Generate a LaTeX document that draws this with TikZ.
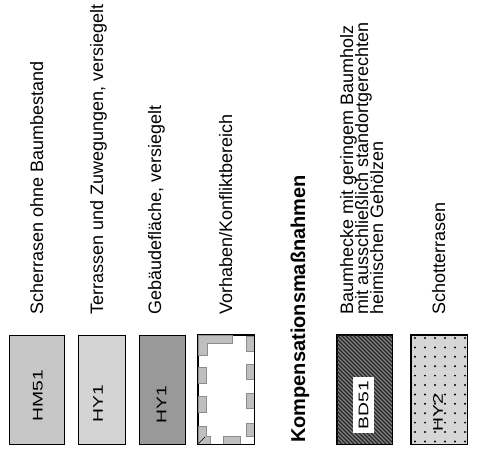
\documentclass[tikz,border=0pt]{standalone}
\usepackage{fontspec}
\usepackage{graphicx}
\setmainfont{Liberation Sans}
\begin{document}
\begin{tikzpicture}[x=1pt,y=-1pt,
  legbox/.style={draw=black,line width=0.8pt,minimum height=109pt,inner sep=0pt,anchor=center},
  lbl/.style={rotate=90,inner sep=0pt,anchor=center,font=\fontsize{14}{14}\selectfont},
  desc/.style={rotate=90,inner sep=0pt,anchor=base west,font=\fontsize{18}{15}\selectfont},
  title/.style={rotate=90,inner sep=0pt,anchor=base west,font=\fontsize{20}{20}\selectfont\bfseries},
  patch/.style={fill=black!25,draw=black!45,line width=0.3pt}
]
\useasboundingbox (0,0) rectangle (478,461);
% boxes
\node[legbox,fill=black!22,minimum width=55pt] (b1) at (36.5,389.5) {};
\node[legbox,fill=black!17,minimum width=47pt] (b2) at (101.5,389.5) {};
\node[legbox,fill=black!40,minimum width=46pt] (b3) at (162,389.5) {};
\node[legbox,fill=white,minimum width=56pt] (b4) at (226,389.5) {};
\node[legbox,fill=black!50,minimum width=55pt] (b5) at (364.5,389.5) {};
\node[legbox,fill=black!16,minimum width=56pt] (b6) at (439,389.5) {};
% box 4 patches
\fill[patch] (198,335) -- (232,335) -- (232,343) -- (207,343) -- (207,355) -- (198,355) -- cycle;
\fill[patch] (198,367) rectangle (206,383);
\fill[patch] (198,396) rectangle (206,412);
\fill[patch] (198,426) -- (206,426) -- (206,436) -- (210,436) -- (210,444) -- (198,444) -- cycle;
\fill[patch] (223,436) rectangle (240,444);
\fill[patch] (246,336) rectangle (254,351);
\fill[patch] (246,364) rectangle (254,379);
\fill[patch] (246,393) rectangle (254,408);
\fill[patch] (246,423) rectangle (254,436);
\draw[line width=0.6pt] (198.5,443.5) -- (205,437);
\draw[line width=0.8pt] (b4.south west) rectangle (b4.north east);
% box 5 hatching
\begin{scope}
  \clip (b5.south west) rectangle (b5.north east);
  \foreach \k in {-120,-116,...,60}
    \draw[black!85,line width=1.1pt] (337+\k,335) -- (337+\k+110,445);
\end{scope}
\draw[line width=0.8pt] (b5.south west) rectangle (b5.north east);
% box 6 dots
\begin{scope}
  \clip (b6.south west) rectangle (b6.north east);
  \foreach \i in {0,...,5}
    \foreach \j in {0,...,11}
      \fill[black] (415+\i*10,338+\j*9.4) circle (1.1pt);
\end{scope}
\draw[line width=0.8pt] (b6.south west) rectangle (b6.north east);
% labels
\node[lbl] (l1) at (38,396) {\scalebox{1.38}[1]{HM51}};
\node[lbl] (l2) at (98,403.5) {\scalebox{1.38}[1]{HY1}};
\node[lbl] (l3) at (161.5,404.5) {\scalebox{1.38}[1]{HY1}};
\node[lbl,fill=white,inner xsep=4pt,inner ysep=6pt] (l5) at (363.5,405) {\scalebox{1.38}[1]{BD51}};
\node[lbl] (l6) at (438,412.5) {\scalebox{1.38}[1]{HY2}};
% descriptions
\node[desc] (d1) at (43,315) {Scherrasen ohne Baumbestand};
\node[desc] (d2) at (103,315) {Terrassen und Zuwegungen, versiegelt};
\node[desc] (d3) at (161,315) {Gebäudefläche, versiegelt};
\node[desc] (d4) at (232,315) {Vorhaben/Konfliktbereich};
\node[title] (t) at (305,443) {Kompensationsmaßnahmen};
\node[desc] (d5a) at (353,315) {Baumhecke mit geringem Baumholz};
\node[desc] (d5b) at (368,315) {mit ausschließlich standortgerechten};
\node[desc] (d5c) at (383,315) {heimischen Gehölzen};
\node[desc] (d6) at (445,315) {Schotterrasen};
\end{tikzpicture}
\end{document}
